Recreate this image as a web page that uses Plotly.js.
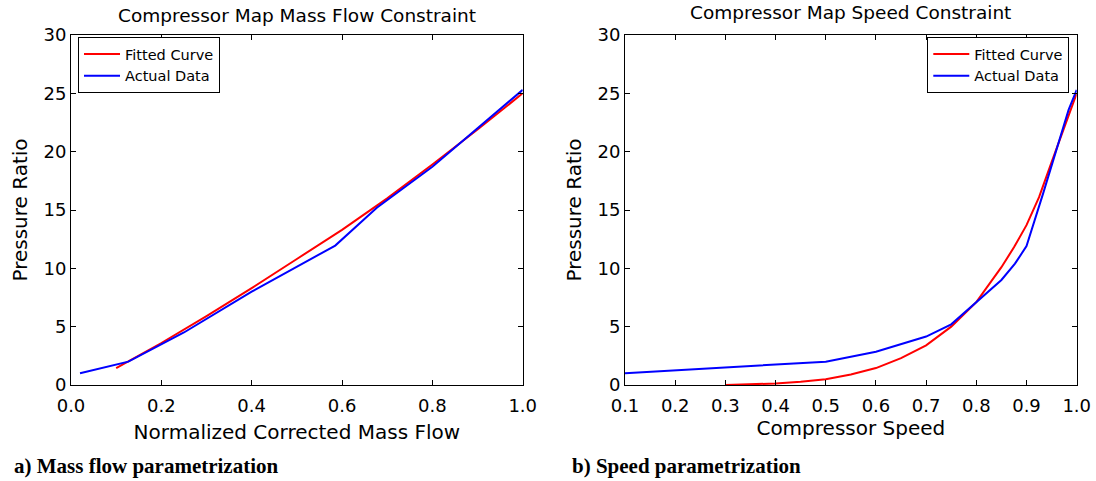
<!DOCTYPE html>
<html>
<head>
<meta charset="utf-8">
<script src="https://cdn.plot.ly/plotly-3.0.1.min.js"></script>
<style>html,body{margin:0;padding:0;background:#fff;}#chart{width:1096px;height:481px;}</style>
</head>
<body>
<div id="chart"></div>
<script>
// Left panel: mass flow parametrization
const massFitX = [0.1, 0.2, 0.3, 0.4, 0.5, 0.6, 0.7, 0.8, 0.9, 1.0];
const massFitY = [1.45, 3.6, 5.9, 8.3, 10.8, 13.3, 16.0, 18.9, 21.9, 25.0];
const massActX = [0.02, 0.127, 0.25, 0.4, 0.585, 0.677, 0.8, 0.9, 1.0];
const massActY = [1.0, 2.0, 4.5, 8.0, 11.95, 15.2, 18.7, 22.0, 25.3];

// Right panel: speed parametrization
const speedFitX = [0.3, 0.35, 0.4, 0.45, 0.5, 0.55, 0.6, 0.65, 0.7, 0.75, 0.8, 0.85, 0.875, 0.9, 0.925, 0.95, 0.975, 1.0];
const speedFitY = [0.0, 0.05, 0.13, 0.27, 0.5, 0.9, 1.45, 2.3, 3.4, 5.0, 7.1, 10.1, 11.8, 13.7, 16.1, 19.1, 22.0, 25.0];
const speedActX = [0.1, 0.5, 0.6, 0.7, 0.75, 0.8, 0.85, 0.877, 0.9, 0.933, 0.963, 0.984, 1.0];
const speedActY = [1.0, 2.0, 2.85, 4.15, 5.2, 7.1, 9.0, 10.4, 11.9, 16.4, 20.6, 23.6, 25.3];

const seriesNames = ['Fitted Curve', 'Actual Data'];
const titles = ['Compressor Map Mass Flow Constraint', 'Compressor Map Speed Constraint'];
const xTitles = ['Normalized Corrected Mass Flow', 'Compressor Speed'];
const yTitle = 'Pressure Ratio';
const captions = ['a) Mass flow parametrization', 'b) Speed parametrization'];

const RED = '#ff0000', BLUE = '#0000ff';
const FONT = 'DejaVu Sans, sans-serif';

const traces = [
  {x: massFitX, y: massFitY, name: seriesNames[0], mode: 'lines', line: {color: RED, width: 2}, xaxis: 'x', yaxis: 'y', legend: 'legend'},
  {x: massActX, y: massActY, name: seriesNames[1], mode: 'lines', line: {color: BLUE, width: 2}, xaxis: 'x', yaxis: 'y', legend: 'legend'},
  {x: speedFitX, y: speedFitY, name: seriesNames[0], mode: 'lines', line: {color: RED, width: 2}, xaxis: 'x2', yaxis: 'y2', legend: 'legend2'},
  {x: speedActX, y: speedActY, name: seriesNames[1], mode: 'lines', line: {color: BLUE, width: 2}, xaxis: 'x2', yaxis: 'y2', legend: 'legend2'}
];

function axisCommon() {
  return {
    showline: true, linecolor: '#000', linewidth: 1, mirror: 'ticks',
    ticks: 'inside', ticklen: 5, tickwidth: 1, tickcolor: '#000',
    showgrid: false, zeroline: false,
    tickfont: {family: FONT, size: 18, color: '#000'},
    automargin: false
  };
}

const titleFont = {family: FONT, size: 20, color: '#000'};
const yDom = [1 - 385/481, 1 - 35/481];
const legendCommon = {yanchor: 'top', y: 1 - 37/481, bgcolor: '#fff', bordercolor: '#000', borderwidth: 1,
  font: {family: FONT, size: 14.5, color: '#000'}, tracegroupgap: 0, itemwidth: 36};

const layout = {
  width: 1096, height: 481,
  margin: {l: 0, r: 0, t: 0, b: 0},
  paper_bgcolor: '#fff', plot_bgcolor: '#fff',
  font: {family: FONT, color: '#000'},
  xaxis: Object.assign(axisCommon(), {domain: [71/1096, 522.7/1096], range: [0, 1], dtick: 0.2, tick0: 0, tickformat: '.1f',
    ticklabelstandoff: 4, title: {text: xTitles[0], font: titleFont, standoff: 10}, anchor: 'y'}),
  yaxis: Object.assign(axisCommon(), {domain: yDom, range: [0, 30], dtick: 5, tick0: 0,
    title: {text: yTitle, font: titleFont, standoff: 10}, anchor: 'x'}),
  xaxis2: Object.assign(axisCommon(), {domain: [625/1096, 1076.7/1096], range: [0.1, 1], dtick: 0.1, tick0: 0.1, tickformat: '.1f',
    ticklabelstandoff: 4, title: {text: xTitles[1], font: titleFont, standoff: 6}, anchor: 'y2'}),
  yaxis2: Object.assign(axisCommon(), {domain: yDom, range: [0, 30], dtick: 5, tick0: 0,
    title: {text: yTitle, font: titleFont, standoff: 10}, anchor: 'x2'}),
  legend: Object.assign({}, legendCommon, {x: 78/1096, xanchor: 'left'}),
  legend2: Object.assign({}, legendCommon, {x: 1069.3/1096, xanchor: 'right'}),
  annotations: [
    {text: titles[0], xref: 'paper', yref: 'paper', x: (71 + 522.7)/2/1096, y: 1 - 15/481, xanchor: 'center', yanchor: 'middle', showarrow: false,
      font: {family: FONT, size: 18.5, color: '#000'}},
    {text: titles[1], xref: 'paper', yref: 'paper', x: (625 + 1076.7)/2/1096, y: 1 - 12/481, xanchor: 'center', yanchor: 'middle', showarrow: false,
      font: {family: FONT, size: 18.5, color: '#000'}},
    {text: '<b>' + captions[0] + '</b>', xref: 'paper', yref: 'paper', x: 12/1096, y: 1 - 466/481, xanchor: 'left', yanchor: 'middle', showarrow: false,
      font: {family: 'Liberation Serif, serif', size: 21, color: '#000'}},
    {text: '<b>' + captions[1] + '</b>', xref: 'paper', yref: 'paper', x: 570/1096, y: 1 - 466/481, xanchor: 'left', yanchor: 'middle', showarrow: false,
      font: {family: 'Liberation Serif, serif', size: 21, color: '#000'}}
  ]
};

Plotly.newPlot('chart', traces, layout, {staticPlot: true, displayModeBar: false});
</script>
</body>
</html>
